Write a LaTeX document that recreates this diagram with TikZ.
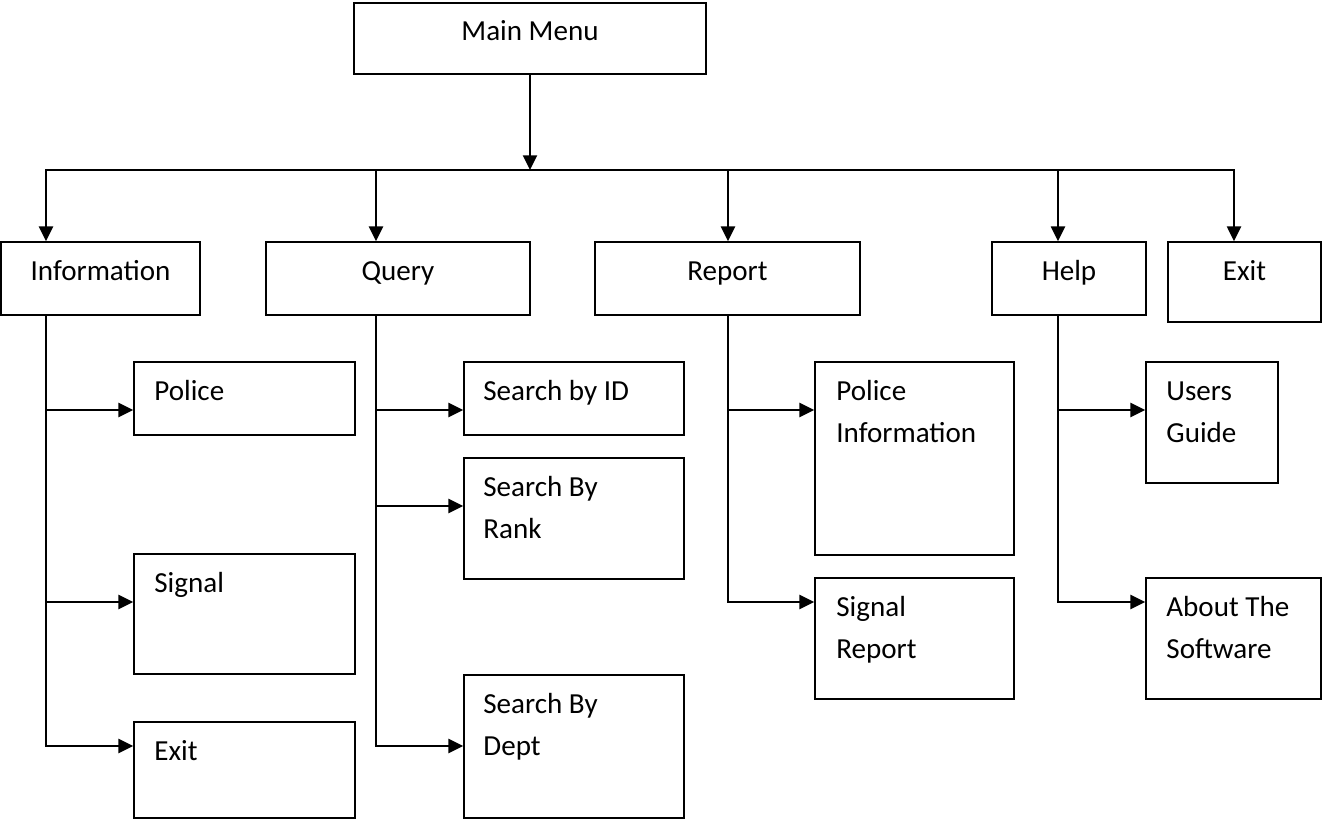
\documentclass[tikz,border=0pt]{standalone}
\usepackage{fontspec}
\setmainfont{Carlito}
\usetikzlibrary{arrows.meta,fit,calc}
% stacked, left-aligned lines whose baseline is the first line's
\newcommand\boxlines[1]{\begin{tabular}[t]{@{}l@{}}#1\end{tabular}}

\begin{document}
\begin{tikzpicture}[x=0.75pt,y=-0.75pt,
  box/.style={draw, line width=1.3pt, inner sep=0pt, fit={#1}},
  lbl/.style={font=\fontsize{21.8pt}{31.5pt}\selectfont, inner sep=0pt},
  title/.style={lbl, anchor=base},
  item/.style={lbl, anchor=base west},
  wire/.style={line width=1.5pt},
  arrow/.style={wire, -{Triangle[length=11pt,width=10.5pt]}},
  biarrow/.style={wire, {Triangle[length=11pt,width=10.5pt]}-{Triangle[length=11pt,width=10.5pt]}},
]
\useasboundingbox (0,0) rectangle (1322,820);

% ---- boxes ----
\node[box={(354,3) (706,74)}]     (main)    {};
\node[box={(1,242) (200,315)}]    (info)    {};
\node[box={(266,242) (530,315)}]  (query)   {};
\node[box={(595,242) (860,315)}]  (report)  {};
\node[box={(992,242) (1146,315)}] (help)    {};
\node[box={(1168,242) (1321,322)}] (exittop) {};

\node[box={(134,362) (355,435)}]  (police)  {};
\node[box={(134,554) (355,674)}]  (signal)  {};
\node[box={(134,722) (355,818)}]  (exitsub) {};

\node[box={(464,362) (684,435)}]  (byid)    {};
\node[box={(464,458) (684,579)}]  (byrank)  {};
\node[box={(464,675) (684,818)}]  (bydept)  {};

\node[box={(815,362) (1014,555)}] (polinfo) {};
\node[box={(815,578) (1014,699)}] (sigrep)  {};

\node[box={(1146,362) (1278,483)}] (guide)  {};
\node[box={(1146,578) (1321,699)}] (about)  {};

% ---- texts ----
\node[title] (main-t)    at ($(main.north)+(0,38)$)    {Main Menu};
\node[title] (info-t)    at ($(info.north)+(0,39)$)    {Information};
\node[title] (query-t)   at ($(query.north)+(0,39)$)   {Query};
\node[title] (report-t)  at ($(report.north)+(0,39)$)  {Report};
\node[title] (help-t)    at ($(help.north)+(0,39)$)    {Help};
\node[title] (exittop-t) at ($(exittop.north)+(0,39)$) {Exit};

\node[item] (police-t)  at ($(police.north west)+(21,39)$)  {Police};
\node[item] (signal-t)  at ($(signal.north west)+(21,39)$)  {Signal};
\node[item] (exitsub-t) at ($(exitsub.north west)+(21,39)$) {Exit};
\node[item] (byid-t)    at ($(byid.north west)+(20,39)$)    {Search by ID};
\node[item] (byrank-t)  at ($(byrank.north west)+(20,39)$)  {\boxlines{Search By\\Rank}};
\node[item] (bydept-t)  at ($(bydept.north west)+(20,39)$)  {\boxlines{Search By\\Dept}};
\node[item] (polinfo-t) at ($(polinfo.north west)+(22,39)$) {\boxlines{Police\\Information}};
\node[item] (sigrep-t)  at ($(sigrep.north west)+(22,39)$)  {\boxlines{Signal\\Report}};
\node[item] (guide-t)   at ($(guide.north west)+(21,39)$)   {\boxlines{Users\\Guide}};
\node[item] (about-t)   at ($(about.north west)+(21,39)$)   {\boxlines{About The\\Software}};

% ---- bus below the main menu ----
\coordinate (bus) at (530,170);
\coordinate (bI) at (46,170);
\coordinate (bQ) at (376,170);
\coordinate (bR) at (728,170);
\coordinate (bH) at (1058,170);
\coordinate (bE) at (1234,170);

\draw[arrow] (main.south) -- (bus);
\draw[biarrow] (bI |- info.north) -- (bI) -- (bE) -- (bE |- exittop.north);
\draw[arrow] (bQ) -- (bQ |- query.north);
\draw[arrow] (bR) -- (bR |- report.north);
\draw[arrow] (bH) -- (bH |- help.north);

% ---- Information branch ----
\coordinate (iP) at (46,410);
\coordinate (iS) at (46,602);
\coordinate (iE) at (46,746);
\draw[arrow] (info.south -| iP) -- (iE) -- (iE -| exitsub.west);
\draw[arrow] (iP) -- (iP -| police.west);
\draw[arrow] (iS) -- (iS -| signal.west);

% ---- Query branch ----
\coordinate (qI) at (376,410);
\coordinate (qR) at (376,506);
\coordinate (qD) at (376,746);
\draw[arrow] (query.south -| qI) -- (qD) -- (qD -| bydept.west);
\draw[arrow] (qI) -- (qI -| byid.west);
\draw[arrow] (qR) -- (qR -| byrank.west);

% ---- Report branch ----
\coordinate (rP) at (728,410);
\coordinate (rS) at (728,602);
\draw[arrow] (report.south -| rP) -- (rS) -- (rS -| sigrep.west);
\draw[arrow] (rP) -- (rP -| polinfo.west);

% ---- Help branch ----
\coordinate (hG) at (1058,410);
\coordinate (hA) at (1058,602);
\draw[arrow] (help.south -| hG) -- (hA) -- (hA -| about.west);
\draw[arrow] (hG) -- (hG -| guide.west);
\end{tikzpicture}
\end{document}
